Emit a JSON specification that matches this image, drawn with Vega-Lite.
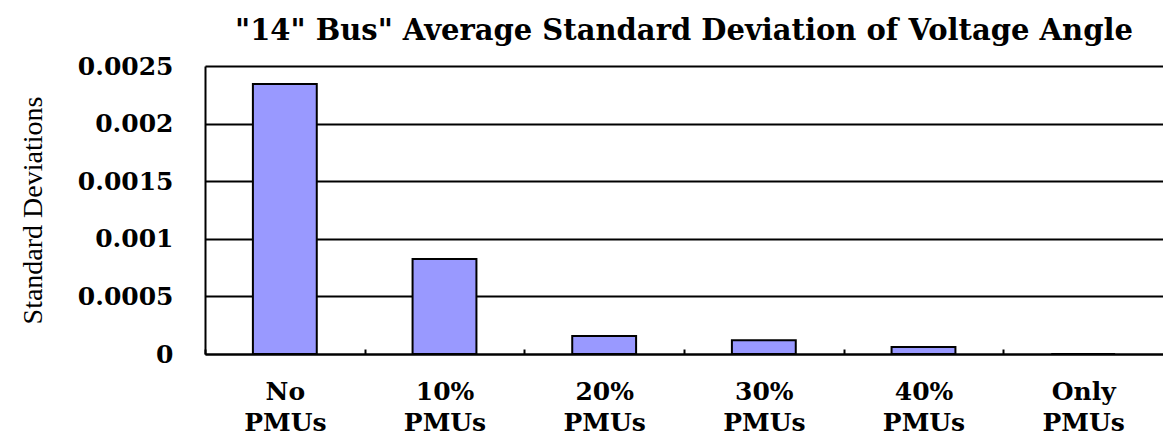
{
  "$schema": "https://vega.github.io/schema/vega-lite/v6.json",
  "autosize": {"type": "none"},
  "padding": {"left": 205, "top": 66, "right": 0, "bottom": 84},
  "width": 958,
  "height": 288,
  "background": "white",
  "title": {
    "text": "\"14\" Bus\" Average Standard Deviation of Voltage Angle",
    "font": "DejaVu Serif",
    "fontSize": 29,
    "fontWeight": "bold",
    "color": "black",
    "anchor": "middle",
    "offset": 8
  },
  "data": {
    "values": [
      {"category": "No PMUs", "value": 0.002344},
      {"category": "10% PMUs", "value": 0.000825},
      {"category": "20% PMUs", "value": 0.000156},
      {"category": "30% PMUs", "value": 0.000119},
      {"category": "40% PMUs", "value": 0.000061},
      {"category": "Only PMUs", "value": 0}
    ]
  },
  "mark": {"type": "bar", "fill": "#9999FF", "stroke": "black", "strokeWidth": 2},
  "encoding": {
    "x": {
      "field": "category",
      "type": "nominal",
      "sort": null,
      "scale": {"paddingInner": 0.6, "paddingOuter": 0.3},
      "axis": {
        "title": null,
        "labelAngle": 0,
        "labelExpr": "split(datum.value, ' ')",
        "labelFont": "DejaVu Serif",
        "labelFontSize": 25,
        "labelFontWeight": "bold",
        "labelColor": "black",
        "labelPadding": 30,
        "labelLineHeight": 31,
        "labelOffset": 79.8,
        "tickOffset": -79.8,
        "tickSize": -5,
        "tickColor": "black",
        "tickWidth": 2,
        "domainColor": "black",
        "domainWidth": 2,
        "grid": false
      }
    },
    "y": {
      "field": "value",
      "type": "quantitative",
      "scale": {"domain": [0, 0.0025], "nice": false},
      "axis": {
        "title": "Standard Deviations",
        "titleFont": "Liberation Serif",
        "titleFontSize": 28,
        "titleFontWeight": "normal",
        "titleColor": "black",
        "titlePadding": 30,
        "values": [0, 0.0005, 0.001, 0.0015, 0.002, 0.0025],
        "labelExpr": "datum.value == 0 ? '0' : format(datum.value, '.4~f')",
        "labelFont": "DejaVu Serif",
        "labelFontSize": 25,
        "labelFontWeight": "bold",
        "labelColor": "black",
        "labelPadding": 32,
        "ticks": false,
        "domainColor": "black",
        "domainWidth": 2,
        "grid": true,
        "gridColor": "black",
        "gridWidth": 2,
        "gridOpacity": 1
      }
    }
  },
  "config": {"view": {"stroke": null}}
}
